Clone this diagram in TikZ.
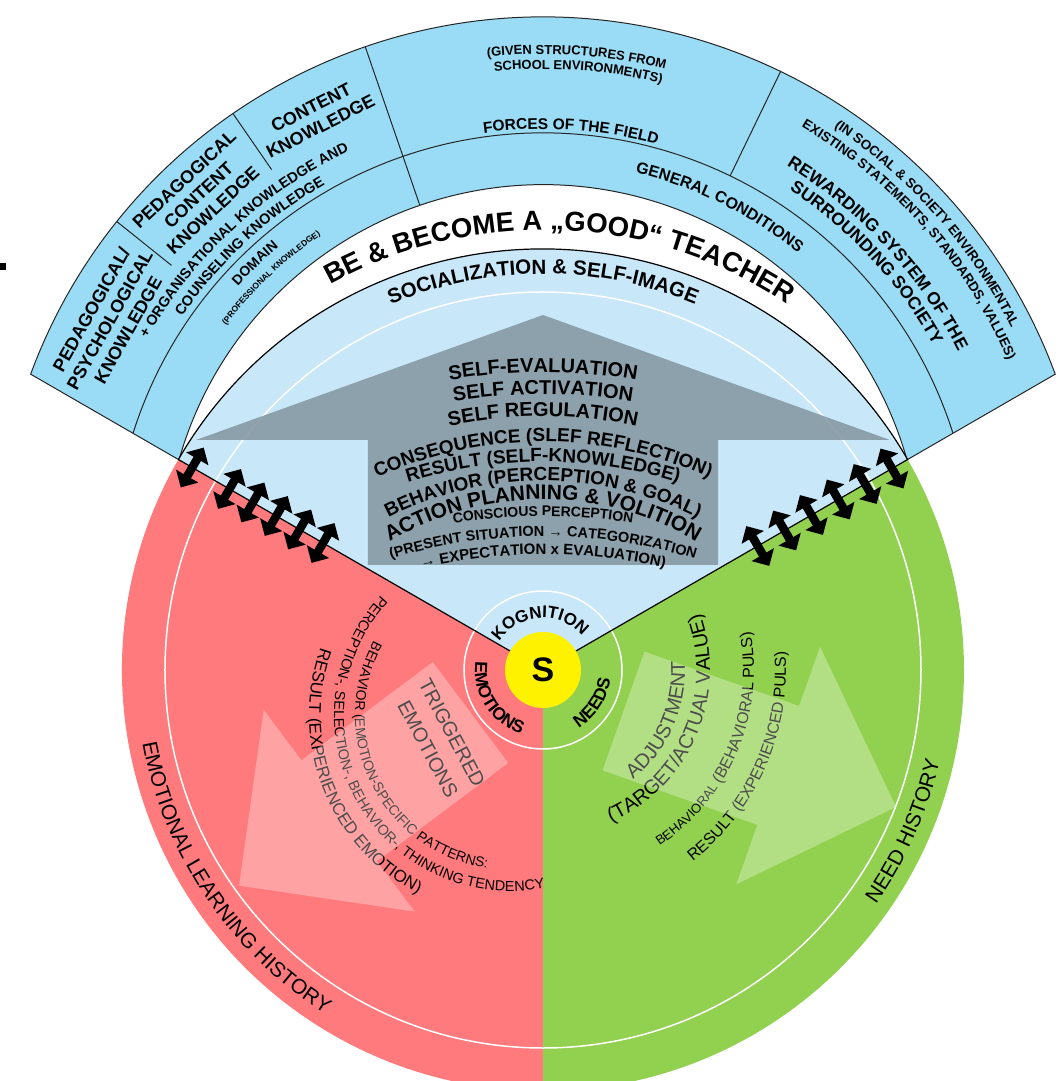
\documentclass[tikz,border=0pt]{standalone}
\usepackage{fontspec}
\setmainfont{Liberation Sans}
\usepackage{tikz}
\usetikzlibrary{arrows.meta,decorations.text}

\definecolor{bandblue}{RGB}{154,220,245}
\definecolor{skyblue}{RGB}{200,231,249}
\definecolor{emored}{RGB}{255,122,124}
\definecolor{needgreen}{RGB}{146,208,80}
\definecolor{arrowgray}{RGB}{131,149,159}
\newcommand{\fsz}[2]{\fontsize{#1}{#2}\selectfont}

\begin{document}
\begin{tikzpicture}[x=1pt, y=1pt,
  bandline/.style={draw=black!85, line width=1pt},
  ringline/.style={draw=white, line width=1.5pt},
  twoway/.style={line width=8.5pt, {Triangle[width=25pt,length=13pt]}-{Triangle[width=25pt,length=13pt]}},
  softarrow/.style={fill=white, fill opacity=0.3},
  cell/.style={font=\bfseries\fsz{18}{21}, align=center, inner sep=0pt},
  trigtext/.style={font=\fsz{20}{20}, rotate=-62, inner sep=0pt},
  arctext/.style={decorate, decoration={text along path, text align=center, text={#1}}}]
\useasboundingbox (-543,-411) rectangle (521,670);
\clip (-543,-411) rectangle (521,670);

% outer band with its cells
\filldraw[fill=bandblue, bandline] (150:420.3) -- (150:591.6) arc[start angle=159.77, end angle=20.23, radius=546]
  -- (30:420.3) arc[start angle=15.83, end angle=164.17, radius=378.35] -- cycle;
\draw[bandline] (150:473.4) arc[start angle=162.45, end angle=17.55, radius=430];
\foreach \a/\r in {109/378.35, 124.6/478, 141.3/476, 64.2/430}
  \draw[bandline, shift={(0,107)}] (\a:\r) -- (\a:546);
\fill (-543,400) rectangle (-537,407);

% the three sectors
\fill[emored] (0,0) -- (150:421) arc[start angle=150, end angle=270, radius=421] -- cycle;
\fill[needgreen] (0,0) -- (270:421) arc[start angle=270, end angle=390, radius=421] -- cycle;
\fill[skyblue] (0,0) -- (30:421) arc[start angle=30, end angle=150, radius=421] -- cycle;
\draw[ringline] (0,0) circle[radius=378];
\draw[ringline] (0,0) circle[radius=79];

\fill[arrowgray, fill opacity=0.85] (-175,105) -- (-175,230) -- (-347,230) -- (0,355) -- (347,230) -- (175,230) -- (175,105) -- cycle;
\draw[line width=1.2pt] (150:421) -- (0,0) -- (30:421) arc[start angle=30, end angle=150, radius=421];

\foreach \r in {405,362,335,308,281,254}
  \draw[twoway, shift={(150:\r)}] (60:23) -- (240:23);
\foreach \r in {403,372,341,310,279,248}
  \draw[twoway, shift={(30:\r)}] (120:23) -- (300:23);

% emotions side
\path[arctext={|\fsz{14}{14}|BEHAVIOR (EMOTION-SPECIFIC PATTERNS:}, shift={(-33,-45)}] (131.5:155) arc[start angle=131.5, end angle=281.5, radius=155];
\path[arctext={|\fsz{14.5}{14.5}|PERCEPTION-, SELECTION-, BEHAVIOR-, THINKING TENDENCY}, shift={(-33,-45)}] (124.3:176) arc[start angle=124.3, end angle=294.3, radius=176];
\path[arctext={|\fsz{17}{17}|RESULT (EXPERIENCED EMOTION)}, shift={(-33,-45)}] (146.6:201) arc[start angle=146.6, end angle=256.6, radius=201];
\node[trigtext] (trig1) at (-91,-63) {TRIGGERED};
\node[trigtext] (trig2) at (-115,-79) {EMOTIONS};
\path[arctext={|\fsz{21}{21}|EMOTIONAL LEARNING HISTORY}] (169:407) arc[start angle=169, end angle=259, radius=407];

% needs side
\path[arctext={|\fsz{20}{20}|ADJUSTMENT}] (-83.5:142) arc[start angle=-83.5, end angle=36.5, radius=142];
\path[arctext={|\fsz{20}{20}|(TARGET/ACTUAL VALUE)}] (-93:167) arc[start angle=-93, end angle=47, radius=167];
\path[arctext={|\fsz{13}{13}|BEHAVIORAL|\fsz{16}{16}| (BEHAVIORAL PULS)}] (-78:211) arc[start angle=-78, end angle=32, radius=211];
\path[arctext={|\fsz{16}{16}|RESULT (EXPERIENCED PULS)}] (-73.75:243) arc[start angle=-73.75, end angle=26.25, radius=243];
\path[arctext={|\fsz{21}{21}|NEED HISTORY}] (-64:407) arc[start angle=-64, end angle=16, radius=407];

\fill[softarrow, shift={(-72.5,-42.5)}, rotate=216.8] (0,-63) -- (164,-63) -- (164,-126) -- (289,0) -- (164,126) -- (164,63) -- (0,63) -- cycle;
\fill[softarrow, shift={(80.5,-41)}, rotate=-19.4] (0,-63) -- (164,-63) -- (164,-126) -- (289,0) -- (164,126) -- (164,63) -- (0,63) -- cycle;

% centre
\node[circle, fill=yellow, minimum size=76pt, inner sep=0pt, font=\bfseries\fsz{34}{34}] (S) at (0,0) {S};
\path[arctext={|\bfseries\fsz{17}{17}|KOGNITION}] (174:52) arc[start angle=174, end angle=14, radius=52];
\path[arctext={|\bfseries\fsz{17.5}{17.5}|EMOTIONS}] (132:68) arc[start angle=132, end angle=292, radius=68];
\path[arctext={|\bfseries\fsz{17.5}{17.5}|NEEDS}] (-103:68) arc[start angle=-103, end angle=37, radius=68];

% text in the grey arrow
\path[arctext={|\bfseries\fsz{20}{20}|SELF-EVALUATION}, shift={(0,-257.2)}] (110:555) arc[start angle=110, end angle=70, radius=555];
\path[arctext={|\bfseries\fsz{20}{20}|SELF ACTIVATION}, shift={(0,-279.2)}] (110:555) arc[start angle=110, end angle=70, radius=555];
\path[arctext={|\bfseries\fsz{20}{20}|SELF REGULATION}, shift={(0,-196.2)}] (115:450) arc[start angle=115, end angle=65, radius=450];
\path[arctext={|\bfseries\fsz{19}{19}|CONSEQUENCE (SLEF REFLECTION)}, shift={(0,-171.8)}] (125:400) arc[start angle=125, end angle=55, radius=400];
\path[arctext={|\bfseries\fsz{19}{19}|RESULT (SELF-KNOWLEDGE)}, shift={(0,-241.8)}] (120:450) arc[start angle=120, end angle=60, radius=450];
\path[arctext={|\bfseries\fsz{19}{19}|BEHAVIOR (PERCEPTION {\&} GOAL)}, shift={(0,-150.8)}] (130:340) arc[start angle=130, end angle=50, radius=340];
\path[arctext={|\bfseries\fsz{21}{21}|ACTION PLANNING {\&} VOLITION}, shift={(0,-129.5)}] (140:300) arc[start angle=140, end angle=40, radius=300];
\path[arctext={|\bfseries\fsz{14}{14}|CONSCIOUS PERCEPTION}, shift={(0,-401)}] (110:555) arc[start angle=110, end angle=70, radius=555];
\path[arctext={|\bfseries\fsz{14.5}{14.5}|(PRESENT SITUATION → CATEGORIZATION}, shift={(0,-386.2)}] (115:520) arc[start angle=115, end angle=65, radius=520];
\path[arctext={|\bfseries\fsz{15}{15}|→ EXPECTATION x EVALUATION)}, shift={(0,-434.4)}] (110:550) arc[start angle=110, end angle=70, radius=550];

% top rings
\path[arctext={|\bfseries\fsz{20.5}{20.5}|SOCIALIZATION {\&} SELF-IMAGE}] (150:396) arc[start angle=150, end angle=30, radius=396];
\path[arctext={|\bfseries\fsz{27.5}{27.5}|BE {\&} BECOME A „GOOD“ TEACHER}] (147.6:440) arc[start angle=147.6, end angle=27.6, radius=440];

% band texts
\node[cell, rotate=60.7] (ppk) at ([shift={(0,107)}]150.7:497) {PEDAGOGICAL/\\PSYCHOLOGICAL\\KNOWLEDGE};
\node[cell, rotate=43.1] (pck) at ([shift={(0,107)}]133.1:504) {PEDAGOGICAL\\CONTENT\\KNOWLEDGE};
\node[cell, rotate=27] (ck) at ([shift={(0,107)}]117:500.5) {CONTENT\\KNOWLEDGE};
\path[arctext={|\bfseries\fsz{14.5}{14.5}|+ ORGANISATIONAL KNOWLEDGE AND}, shift={(0,107)}] (162.85:455) arc[start angle=162.85, end angle=102.85, radius=455];
\path[arctext={|\bfseries\fsz{14.5}{14.5}|COUNSELING KNOWLEDGE}, shift={(0,107)}] (162.8:437) arc[start angle=162.8, end angle=102.8, radius=437];
\path[arctext={|\bfseries\fsz{14}{14}|DOMAIN}, shift={(0,107)}] (153.85:412) arc[start angle=153.85, end angle=113.85, radius=412];
\path[arctext={|\bfseries\fsz{8.5}{8.5}|(PROFESSIONAL KNOWLEDGE)}, shift={(0,107)}] (153.65:396) arc[start angle=153.65, end angle=113.65, radius=396];
\path[arctext={|\bfseries\fsz{13}{13}|(GIVEN STRUCTURES FROM}, shift={(0,107)}] (111.2:509) arc[start angle=111.2, end angle=61.2, radius=509];
\path[arctext={|\bfseries\fsz{13}{13}|SCHOOL ENVIRONMENTS)}, shift={(0,107)}] (110.9:494) arc[start angle=110.9, end angle=60.9, radius=494];
\path[arctext={|\bfseries\fsz{15.5}{15.5}|FORCES OF THE FIELD}, shift={(0,107)}] (116.3:434) arc[start angle=116.3, end angle=56.3, radius=434];
\path[arctext={|\bfseries\fsz{16}{16}|GENERAL CONDITIONS}, shift={(0,107)}] (98.6:401) arc[start angle=98.6, end angle=28.6, radius=401];
\path[arctext={|\bfseries\fsz{13.5}{13.5}|(IN SOCIAL {\&} SOCIETY ENVIRONMENTAL}, shift={(0,107)}] (65.45:524) arc[start angle=65.45, end angle=17.45, radius=524];
\path[arctext={|\bfseries\fsz{13.5}{13.5}|EXISTING STATEMENTS, STANDARDS, VALUES)}, shift={(0,107)}] (65.45:507) arc[start angle=65.45, end angle=17.45, radius=507];
\path[arctext={|\bfseries\fsz{17.5}{17.5}|REWARDING SYSTEM OF THE}, shift={(0,107)}] (68.75:466) arc[start angle=68.75, end angle=16.75, radius=466];
\path[arctext={|\bfseries\fsz{17.5}{17.5}|SURROUNDING SOCIETY}, shift={(0,107)}] (68.85:447) arc[start angle=68.85, end angle=16.85, radius=447];
\end{tikzpicture}
\end{document}
